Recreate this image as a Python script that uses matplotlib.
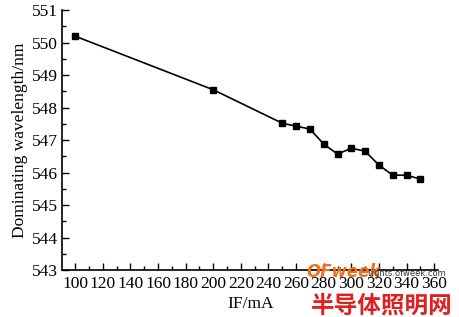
import matplotlib.pyplot as plt
from matplotlib.ticker import MultipleLocator

current = [100, 200, 250, 260, 270, 280, 290, 300, 310, 320, 330, 340, 350]
wavelength = [550.2, 548.55, 547.52, 547.43, 547.34, 546.88, 546.57, 546.75, 546.66,
              546.23, 545.92, 545.92, 545.8]

plt.rcParams['font.family'] = ['Liberation Serif', 'DejaVu Serif']

fig = plt.figure(figsize=(4.59, 3.17), dpi=100)
ax = fig.add_axes([0.135, 0.148, 0.82, 0.82])

ax.plot(current, wavelength, color='black', lw=1.2, marker='s', ms=5, mfc='black', mec='black')

ax.set_xlim(90.5, 363)
ax.set_ylim(543, 551)
ax.xaxis.set_minor_locator(MultipleLocator(10))
ax.yaxis.set_major_locator(MultipleLocator(1))
ax.yaxis.set_minor_locator(MultipleLocator(0.5))
ax.set_xticks(range(100, 361, 20))
ax.tick_params(which='major', direction='in', length=5, width=1, labelsize=12.5, pad=3)
ax.tick_params(axis='x', which='major', pad=4)
ax.tick_params(which='minor', direction='in', length=3, width=1)
for s in ['top', 'right']:
    ax.spines[s].set_visible(False)
for s in ['left', 'bottom']:
    ax.spines[s].set_linewidth(1.2)

ax.set_xlabel('IF/mA', fontsize=12.5, labelpad=3)
ax.set_ylabel('Dominating wavelength/nm', fontsize=12.5, labelpad=3)

# watermark
fig.text(0.668, 0.125, 'OFweek', color='#f07020', fontsize=12, fontweight='bold',
         style='italic', family='DejaVu Sans')
fig.text(0.80, 0.13, 'Lights.ofweek.com', color='#333333', fontsize=6, family='DejaVu Sans')
fig.text(0.678, 0.015, '半导体照明网', color='#e02020', fontsize=17, fontweight='bold',
         family=['Noto Sans CJK SC', 'DejaVu Sans'])

fig.savefig('out.png', dpi=100)
